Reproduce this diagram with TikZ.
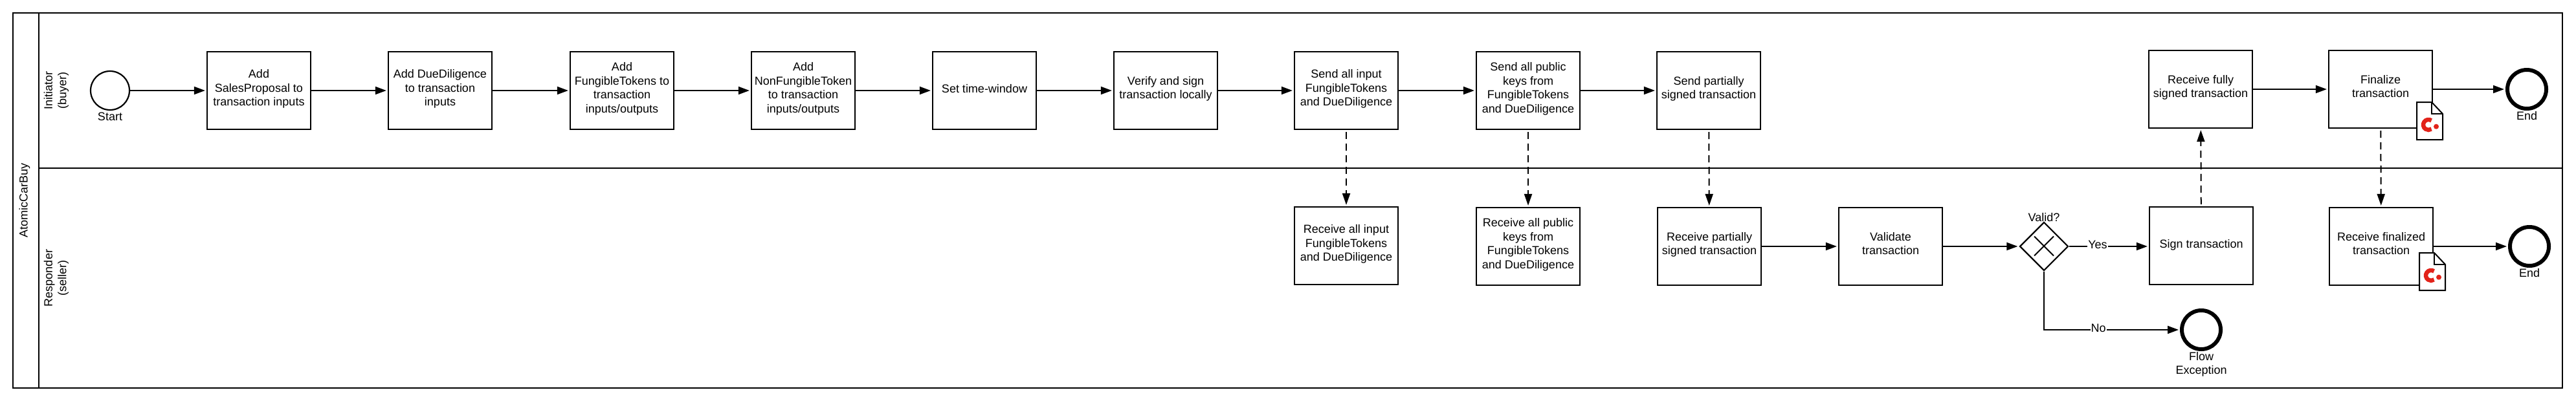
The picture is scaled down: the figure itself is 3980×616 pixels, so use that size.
\documentclass[tikz,border=0pt]{standalone}
\usepackage{fontspec}
\setmainfont{Liberation Sans}
\usetikzlibrary{arrows.meta, positioning, shapes.geometric}
\definecolor{logored}{HTML}{E2231A}

\tikzset{
    x=1pt, y=-1pt,
    every node/.style={font=\fontsize{18}{21.6}\selectfont, align=center, inner sep=0pt},
    lane/.style={black, line width=2.2pt},
    taskbox/.style={draw=black, line width=2.2pt, minimum width=160pt, minimum height=120pt,
        execute at begin node={\rule{0pt}{15pt}}, execute at end node={\rule[-9pt]{0pt}{9pt}}},
    startevent/.style={circle, draw=black, line width=2.2pt, minimum size=60pt},
    endevent/.style={circle, draw=black, line width=6pt, minimum size=60pt},
    gateway/.style={diamond, draw=black, line width=2.2pt, minimum size=75pt},
    flow/.style={black, line width=2pt, shorten >=2pt, -{Triangle[length=17pt, width=12pt]}},
    message/.style={black, line width=2pt, shorten >=2pt, shorten <=3pt, dash pattern=on 11pt off 7pt, -{Triangle[length=18pt, width=12pt]}},
    flowlabel/.style={fill=white, inner xsep=1pt, yshift=3pt},
    pics/contractdoc/.style={code={
        \draw[black, line width=2pt, fill=white] (0,0) -- (23,0) -- (40,18) -- (40,58) -- (0,58) -- cycle;
        \draw[black, line width=2pt] (23,0) -- (23,18) -- (40,18);
        \draw[logored, line width=6.5pt] (22.6,28.4) arc (-55:-305:8);
        \fill[logored] (30,37.7) circle (4);
    }}
}

\begin{document}
\begin{tikzpicture}
\useasboundingbox (0,0) rectangle (3980,616);

% swimlanes
\draw[lane] (20,20) rectangle (3959,600);
\draw[lane] (60,20) -- (60,600);
\draw[lane] (60,260) -- (3959,260);
\node[rotate=90] (poolname) at (38,310) {AtomicCarBuy};
\node[rotate=90] (initiatorname) at (87,140) {Initiator\\(buyer)};
\node[rotate=90] (respondername) at (87,430) {Responder\\(seller)};

% initiator
\node[startevent] (start) at (170,140) {};
\node[below=3pt of start] (startname) {Start};
\node[taskbox] (addsales) at (400,140) {Add\\SalesProposal to\\transaction inputs};
\node[taskbox] (adddue) at (680,140) {Add DueDiligence\\to transaction\\inputs};
\node[taskbox] (addfungible) at (961,140) {Add\\FungibleTokens to\\transaction\\inputs/outputs};
\node[taskbox] (addnonfungible) at (1241,140) {Add\\NonFungibleToken\\to transaction\\inputs/outputs};
\node[taskbox] (settime) at (1521,140) {Set time-window};
\node[taskbox] (verify) at (1801,140) {Verify and sign\\transaction locally};
\node[taskbox] (sendinput) at (2080,140) {Send all input\\FungibleTokens\\and DueDiligence};
\node[taskbox] (sendkeys) at (2361,140) {Send all public\\keys from\\FungibleTokens\\and DueDiligence};
\node[taskbox] (sendpartial) at (2640,140) {Send partially\\signed transaction};
\node[taskbox] (recvfull) at (3400,138) {Receive fully\\signed transaction};
\node[taskbox] (finalize) at (3678,138) {Finalize\\transaction};
\pic at (3734,158) {contractdoc};
\node[endevent] (endbuyer) at (3904,138) {};
\node[below=1pt of endbuyer] (endbuyername) {End};

% responder
\node[taskbox] (recvinput) at (2080,380) {Receive all input\\FungibleTokens\\and DueDiligence};
\node[taskbox] (recvkeys) at (2361,381) {Receive all public\\keys from\\FungibleTokens\\and DueDiligence};
\node[taskbox] (recvpartial) at (2641,381) {Receive partially\\signed transaction};
\node[taskbox] (validate) at (2921,381) {Validate\\transaction};
\node[gateway] (valid) at (3158,381) {};
\draw[black, line width=2pt] (3143,365.5) -- (3173,395.5);
\draw[black, line width=2pt] (3143,395.5) -- (3173,365.5);
\node[above=0pt of valid] (validname) {Valid?};
\node[taskbox] (signtx) at (3401,380) {Sign transaction};
\node[taskbox] (recvfinal) at (3679,381) {Receive finalized\\transaction};
\pic at (3738,391) {contractdoc};
\node[endevent] (endseller) at (3908,381) {};
\node[below=1pt of endseller] (endsellername) {End};
\node[endevent] (flowexc) at (3401,510) {};
\node[below=1pt of flowexc] (flowexcname) {Flow\\Exception};

% sequence flows
\draw[flow] (start) -- (addsales);
\draw[flow] (addsales) -- (adddue);
\draw[flow] (adddue) -- (addfungible);
\draw[flow] (addfungible) -- (addnonfungible);
\draw[flow] (addnonfungible) -- (settime);
\draw[flow] (settime) -- (verify);
\draw[flow] (verify) -- (sendinput);
\draw[flow] (sendinput) -- (sendkeys);
\draw[flow] (sendkeys) -- (sendpartial);
\draw[flow] (recvfull) -- (finalize);
\draw[flow] (finalize.east |- endbuyer) -- (endbuyer);
\draw[flow] (recvpartial) -- (validate);
\draw[flow] (validate) -- (valid);
\draw[flow] (valid) -- node[flowlabel, pos=0.36] (yes) {Yes} (signtx.west |- valid);
\draw[flow] (valid.south) |- node[flowlabel, pos=0.7] (no) {No} (flowexc);
\draw[flow] (recvfinal.east |- endseller) -- (endseller);

% message flows
\draw[message] (sendinput) -- (recvinput);
\draw[message] (sendkeys) -- (recvkeys);
\draw[message] (sendpartial) -- (recvpartial);
\draw[message] (signtx) -- (recvfull);
\draw[message] (finalize) -- (recvfinal);

\end{tikzpicture}
\end{document}
